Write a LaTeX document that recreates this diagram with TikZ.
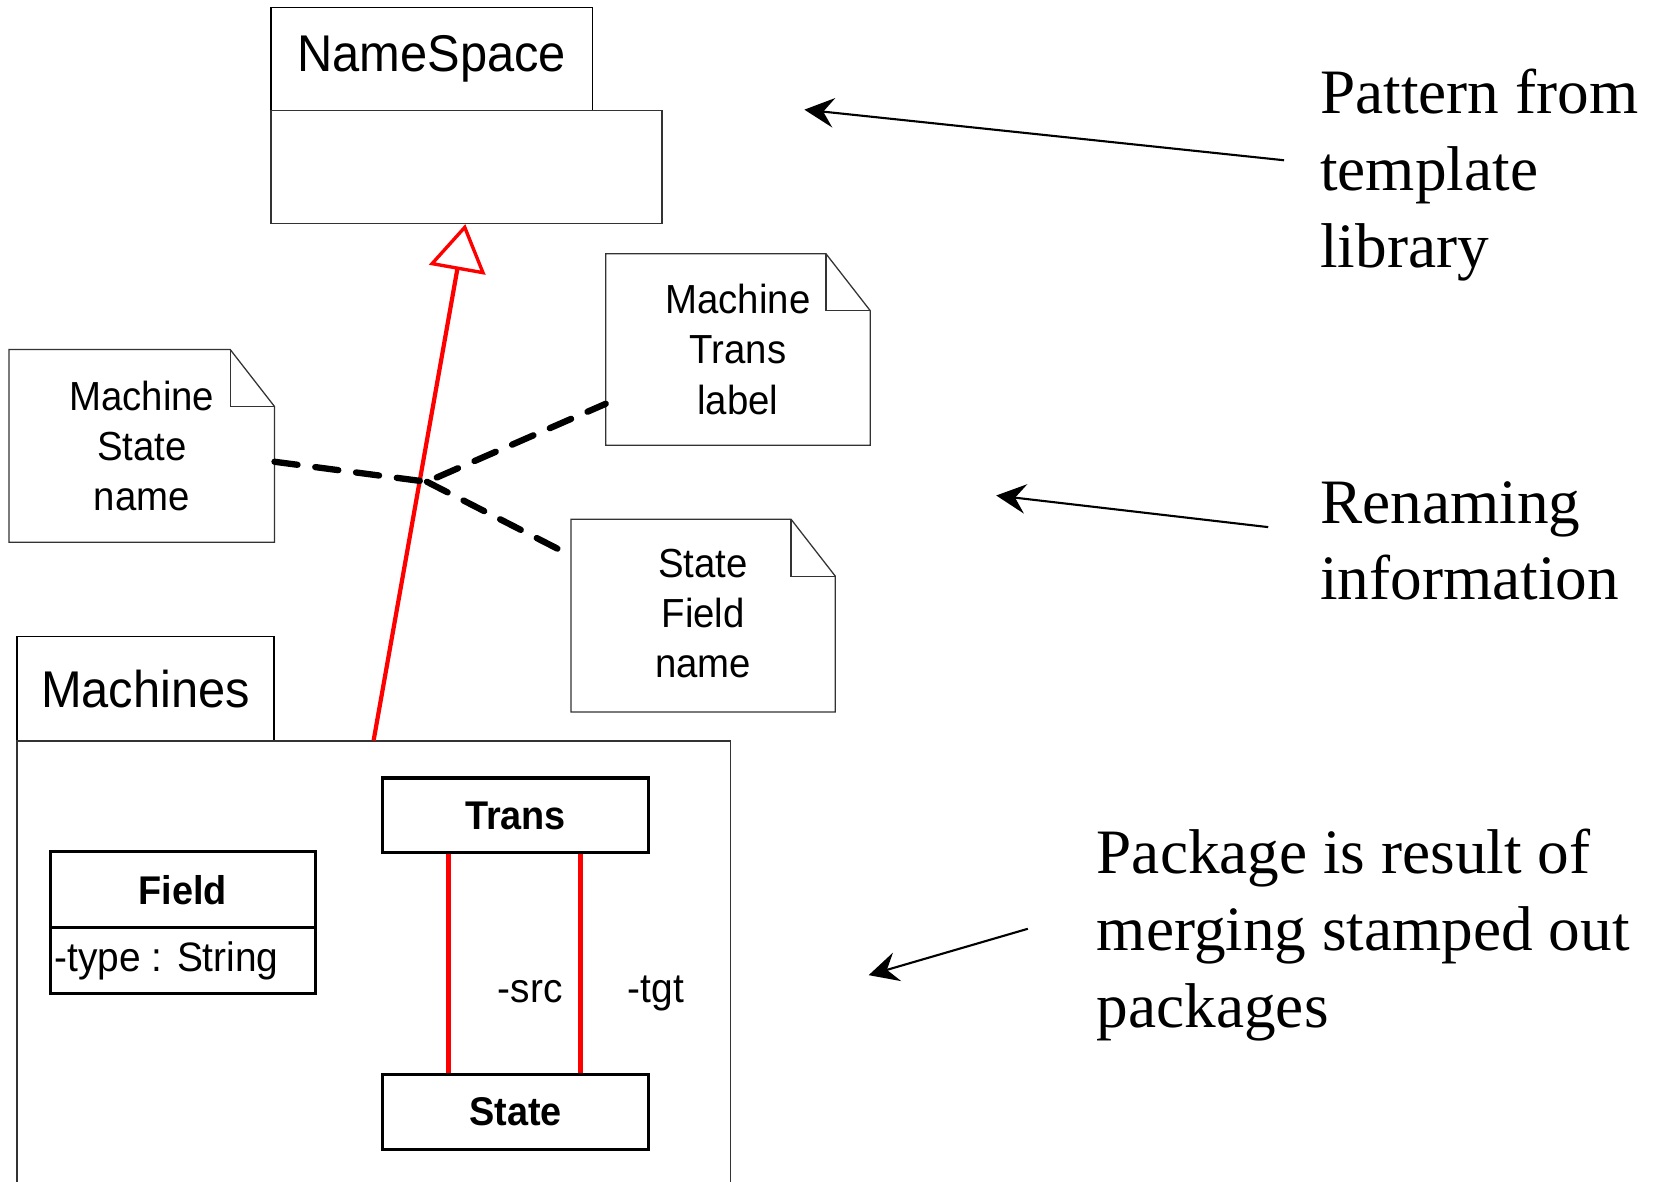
\documentclass[tikz,border=0pt]{standalone}
\usepackage{fontspec}
\setmainfont{Liberation Serif}
\newfontfamily\umlfont[FakeStretch=0.945]{Liberation Sans}
\usetikzlibrary{arrows.meta,fit,calc}

\begin{document}
\begin{tikzpicture}[x=0.5pt,y=-0.5pt,
  thinbox/.style={draw=black!80, line width=0.6pt, inner sep=0pt},
  classbox/.style={draw=black, line width=1.5pt, inner sep=0pt},
  notebody/.style={draw=black!80, line width=0.6pt},
  pkgname/.style={font=\umlfont\fontsize{24.5pt}{29pt}\selectfont, inner sep=0pt},
  notetext/.style={font=\umlfont\fontsize{19.25pt}{23.75pt}\selectfont, align=center, inner sep=0pt},
  classname/.style={font=\umlfont\bfseries\fontsize{19pt}{23pt}\selectfont, inner sep=0pt},
  umltext/.style={font=\umlfont\fontsize{19.5pt}{23pt}\selectfont, inner sep=0pt},
  remark/.style={font=\fontsize{30pt}{36.5pt}\selectfont, align=left, anchor=north west, inner sep=0pt},
  pointer/.style={-{Stealth[length=14pt,width=14pt,inset=5pt]}, line width=1pt},
  renaming/.style={dash pattern=on 11pt off 8.5pt, line width=3pt, line cap=round},
  genline/.style={red, line width=2pt, -{Triangle[open,length=22pt,width=27pt,line width=1.6pt]}},
  assoc/.style={red, line width=2.2pt},
]
\clip (0,0) rectangle (1568,1121);

% NameSpace package
\node[thinbox, draw=black, fit={(257,7) (562,105)}] (nstab) {};
\node[thinbox, fit={(257,105) (628,212)}] (nsbody) {};
\node[pkgname] (nsname) at (nstab.center) {NameSpace};

% Machines package (body runs past the lower edge)
\node[thinbox, draw=black, fit={(16,604) (260,703)}] (mtab) {};
\node[thinbox, fit={(16,703) (693,1160)}] (mbody) {};
\node[pkgname] (mname) at (mtab.center) {Machines};

% classes inside Machines
\node[classbox, fit={(48,808) (299,880)}] (field) {};
\node[classbox, fit={(48,880) (299,942)}] (fieldattr) {};
\node[classname] (fieldname) at (field.center) {Field};
\node[umltext, anchor=west] (fieldtype) at ([xshift=2.5pt]fieldattr.west) {-type : String};
\node[classbox, fit={(363,738) (615,809)}] (trans) {};
\node[classbox, fit={(363,1019) (615,1090)}] (state) {};
\node[classname] (transname) at (trans.center) {Trans};
\node[classname] (statename) at (state.center) {State};

% associations Trans -- State
\draw[assoc] ([xshift=32pt]trans.south west) -- ([xshift=32pt]state.north west);
\draw[assoc] ([xshift=94.5pt]trans.south west) -- ([xshift=94.5pt]state.north west);
\node[umltext, anchor=base] (src) at (503,951) {-src};
\node[umltext, anchor=base] (tgt) at (622,951) {-tgt};

% renaming notes
\node[inner sep=0pt, fit={(9,332) (260,514)}] (nstate) {};
\node[inner sep=0pt, fit={(575,241) (825,422)}] (ntrans) {};
\node[inner sep=0pt, fit={(542,493) (792,675)}] (nfield) {};
\foreach \n in {nstate,ntrans,nfield}{
  \draw[notebody] (\n.south west) -- (\n.north west) -- ([xshift=-21pt]\n.north east)
    -- ([yshift=-27pt]\n.north east) -- (\n.south east) -- cycle;
  \draw[notebody] ([xshift=-21pt]\n.north east) |- ([yshift=-27pt]\n.north east);
}
\node[notetext] (nstatetext) at (nstate.center) {Machine\\State\\name};
\node[notetext] (ntranstext) at (ntrans.center) {Machine\\Trans\\label};
\node[notetext] (nfieldtext) at ([yshift=1pt]nfield.center) {State\\Field\\name};

% generalization Machines -> NameSpace
\draw[genline] ([xshift=169.5pt]mbody.north west) -- ([xshift=92.5pt]nsbody.south west);

% dashed links joining the notes
\coordinate (junc) at (405,457);
\draw[renaming] ([yshift=-7.5pt]nstate.east) -- (junc) -- ([yshift=-25.75pt]ntrans.west);
\draw[renaming] (junc) -- ([yshift=28.5pt]nfield.west);

% explanatory remarks
\node[remark] (r1) at (1252,65) {Pattern from\\template\\library};
\node[remark] (r2) at (1252,456) {Renaming\\information};
\node[remark] (r3) at (1040,786) {Package is result of\\merging stamped out\\packages};

\coordinate (p1tail) at (1218,152);
\coordinate (p1head) at (763,104);
\coordinate (p2tail) at (1203,500);
\coordinate (p2head) at (945,470);
\coordinate (p3tail) at (975,881);
\coordinate (p3head) at (824,925);
\draw[pointer] (p1tail) -- (p1head);
\draw[pointer] (p2tail) -- (p2head);
\draw[pointer] (p3tail) -- (p3head);
\end{tikzpicture}
\end{document}
